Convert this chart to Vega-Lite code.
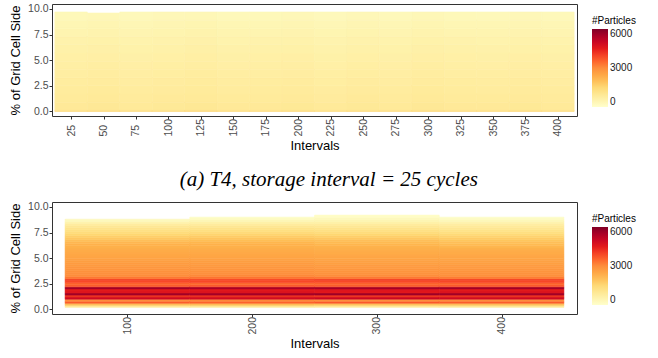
{
"$schema": "https://vega.github.io/schema/vega-lite/v6.json",
"padding": {"left": 9, "top": 3, "right": 5, "bottom": 2},
"spacing": 15,
"background": "white",
"config": {
  "view": {"stroke": "#333333", "strokeWidth": 1},
  "font": "Liberation Sans",
  "axis": {"grid": false, "domain": false, "tickColor": "#333333", "tickSize": 3, "labelColor": "#4d4d4d", "labelFont": "Liberation Sans", "labelFontSize": 10.5, "titleFont": "Liberation Sans", "titleFontSize": 13, "titleFontWeight": "normal", "titleColor": "#000000", "labelFlush": false},
  "legend": {"titleFont": "Liberation Sans", "titleFontSize": 10, "titleFontWeight": "normal", "titleColor": "#000000", "labelFont": "Liberation Sans", "labelFontSize": 10, "labelColor": "#1a1a1a", "gradientLength": 78, "gradientThickness": 16, "padding": 12, "offset": 3, "titlePadding": 3, "labelOffset": 3, "gradientStrokeWidth": 0},
  "title": {"font": "Liberation Serif", "fontSize": 21, "fontStyle": "italic", "fontWeight": "normal", "color": "#000000", "anchor": "middle", "frame": "bounds", "offset": 12}
},
"datasets": {
"a": [
{"a":12.5,"b":37.5,"c":0,"d":0.1,"n":1500},{"a":12.5,"b":37.5,"c":0.1,"d":0.9,"n":900},{"a":12.5,"b":37.5,"c":0.9,"d":1.7,"n":840},{"a":12.5,"b":37.5,"c":1.7,"d":2.5,"n":800},{"a":12.5,"b":37.5,"c":2.5,"d":3.3,"n":760},{"a":12.5,"b":37.5,"c":3.3,"d":4.1,"n":720},{"a":12.5,"b":37.5,"c":4.1,"d":4.9,"n":680},{"a":12.5,"b":37.5,"c":4.9,"d":5.7,"n":640},{"a":12.5,"b":37.5,"c":5.7,"d":6.5,"n":590},{"a":12.5,"b":37.5,"c":6.5,"d":7.3,"n":540},{"a":12.5,"b":37.5,"c":7.3,"d":8.1,"n":480},{"a":12.5,"b":37.5,"c":8.1,"d":8.9,"n":410},{"a":12.5,"b":37.5,"c":8.9,"d":9.7,"n":320},
{"a":37.5,"b":62.5,"c":0,"d":0.1,"n":1560},{"a":37.5,"b":62.5,"c":0.1,"d":0.9,"n":930},{"a":37.5,"b":62.5,"c":0.9,"d":1.7,"n":870},{"a":37.5,"b":62.5,"c":1.7,"d":2.5,"n":830},{"a":37.5,"b":62.5,"c":2.5,"d":3.3,"n":790},{"a":37.5,"b":62.5,"c":3.3,"d":4.1,"n":750},{"a":37.5,"b":62.5,"c":4.1,"d":4.9,"n":710},{"a":37.5,"b":62.5,"c":4.9,"d":5.7,"n":670},{"a":37.5,"b":62.5,"c":5.7,"d":6.5,"n":620},{"a":37.5,"b":62.5,"c":6.5,"d":7.3,"n":570},{"a":37.5,"b":62.5,"c":7.3,"d":8.1,"n":510},{"a":37.5,"b":62.5,"c":8.1,"d":8.9,"n":440},{"a":37.5,"b":62.5,"c":8.9,"d":9.6,"n":350},
{"a":62.5,"b":87.5,"c":0,"d":0.1,"n":1460},{"a":62.5,"b":87.5,"c":0.1,"d":0.9,"n":880},{"a":62.5,"b":87.5,"c":0.9,"d":1.7,"n":820},{"a":62.5,"b":87.5,"c":1.7,"d":2.5,"n":780},{"a":62.5,"b":87.5,"c":2.5,"d":3.3,"n":740},{"a":62.5,"b":87.5,"c":3.3,"d":4.1,"n":700},{"a":62.5,"b":87.5,"c":4.1,"d":4.9,"n":660},{"a":62.5,"b":87.5,"c":4.9,"d":5.7,"n":620},{"a":62.5,"b":87.5,"c":5.7,"d":6.5,"n":570},{"a":62.5,"b":87.5,"c":6.5,"d":7.3,"n":520},{"a":62.5,"b":87.5,"c":7.3,"d":8.1,"n":460},{"a":62.5,"b":87.5,"c":8.1,"d":8.9,"n":390},{"a":62.5,"b":87.5,"c":8.9,"d":9.7,"n":300},
{"a":87.5,"b":112.5,"c":0,"d":0.1,"n":1520},{"a":87.5,"b":112.5,"c":0.1,"d":0.9,"n":910},{"a":87.5,"b":112.5,"c":0.9,"d":1.7,"n":850},{"a":87.5,"b":112.5,"c":1.7,"d":2.5,"n":810},{"a":87.5,"b":112.5,"c":2.5,"d":3.3,"n":770},{"a":87.5,"b":112.5,"c":3.3,"d":4.1,"n":730},{"a":87.5,"b":112.5,"c":4.1,"d":4.9,"n":690},{"a":87.5,"b":112.5,"c":4.9,"d":5.7,"n":650},{"a":87.5,"b":112.5,"c":5.7,"d":6.5,"n":600},{"a":87.5,"b":112.5,"c":6.5,"d":7.3,"n":550},{"a":87.5,"b":112.5,"c":7.3,"d":8.1,"n":490},{"a":87.5,"b":112.5,"c":8.1,"d":8.9,"n":420},{"a":87.5,"b":112.5,"c":8.9,"d":9.7,"n":330},
{"a":112.5,"b":137.5,"c":0,"d":0.1,"n":1580},{"a":112.5,"b":137.5,"c":0.1,"d":0.9,"n":940},{"a":112.5,"b":137.5,"c":0.9,"d":1.7,"n":880},{"a":112.5,"b":137.5,"c":1.7,"d":2.5,"n":840},{"a":112.5,"b":137.5,"c":2.5,"d":3.3,"n":800},{"a":112.5,"b":137.5,"c":3.3,"d":4.1,"n":760},{"a":112.5,"b":137.5,"c":4.1,"d":4.9,"n":720},{"a":112.5,"b":137.5,"c":4.9,"d":5.7,"n":680},{"a":112.5,"b":137.5,"c":5.7,"d":6.5,"n":630},{"a":112.5,"b":137.5,"c":6.5,"d":7.3,"n":580},{"a":112.5,"b":137.5,"c":7.3,"d":8.1,"n":520},{"a":112.5,"b":137.5,"c":8.1,"d":8.9,"n":450},{"a":112.5,"b":137.5,"c":8.9,"d":9.7,"n":360},
{"a":137.5,"b":162.5,"c":0,"d":0.1,"n":1480},{"a":137.5,"b":162.5,"c":0.1,"d":0.9,"n":890},{"a":137.5,"b":162.5,"c":0.9,"d":1.7,"n":830},{"a":137.5,"b":162.5,"c":1.7,"d":2.5,"n":790},{"a":137.5,"b":162.5,"c":2.5,"d":3.3,"n":750},{"a":137.5,"b":162.5,"c":3.3,"d":4.1,"n":710},{"a":137.5,"b":162.5,"c":4.1,"d":4.9,"n":670},{"a":137.5,"b":162.5,"c":4.9,"d":5.7,"n":630},{"a":137.5,"b":162.5,"c":5.7,"d":6.5,"n":580},{"a":137.5,"b":162.5,"c":6.5,"d":7.3,"n":530},{"a":137.5,"b":162.5,"c":7.3,"d":8.1,"n":470},{"a":137.5,"b":162.5,"c":8.1,"d":8.9,"n":400},{"a":137.5,"b":162.5,"c":8.9,"d":9.7,"n":310},
{"a":162.5,"b":187.5,"c":0,"d":0.1,"n":1500},{"a":162.5,"b":187.5,"c":0.1,"d":0.9,"n":900},{"a":162.5,"b":187.5,"c":0.9,"d":1.7,"n":840},{"a":162.5,"b":187.5,"c":1.7,"d":2.5,"n":800},{"a":162.5,"b":187.5,"c":2.5,"d":3.3,"n":760},{"a":162.5,"b":187.5,"c":3.3,"d":4.1,"n":720},{"a":162.5,"b":187.5,"c":4.1,"d":4.9,"n":680},{"a":162.5,"b":187.5,"c":4.9,"d":5.7,"n":640},{"a":162.5,"b":187.5,"c":5.7,"d":6.5,"n":590},{"a":162.5,"b":187.5,"c":6.5,"d":7.3,"n":540},{"a":162.5,"b":187.5,"c":7.3,"d":8.1,"n":480},{"a":162.5,"b":187.5,"c":8.1,"d":8.9,"n":410},{"a":162.5,"b":187.5,"c":8.9,"d":9.7,"n":320},
{"a":187.5,"b":212.5,"c":0,"d":0.1,"n":1540},{"a":187.5,"b":212.5,"c":0.1,"d":0.9,"n":920},{"a":187.5,"b":212.5,"c":0.9,"d":1.7,"n":860},{"a":187.5,"b":212.5,"c":1.7,"d":2.5,"n":820},{"a":187.5,"b":212.5,"c":2.5,"d":3.3,"n":780},{"a":187.5,"b":212.5,"c":3.3,"d":4.1,"n":740},{"a":187.5,"b":212.5,"c":4.1,"d":4.9,"n":700},{"a":187.5,"b":212.5,"c":4.9,"d":5.7,"n":660},{"a":187.5,"b":212.5,"c":5.7,"d":6.5,"n":610},{"a":187.5,"b":212.5,"c":6.5,"d":7.3,"n":560},{"a":187.5,"b":212.5,"c":7.3,"d":8.1,"n":500},{"a":187.5,"b":212.5,"c":8.1,"d":8.9,"n":430},{"a":187.5,"b":212.5,"c":8.9,"d":9.7,"n":340},
{"a":212.5,"b":237.5,"c":0,"d":0.1,"n":1440},{"a":212.5,"b":237.5,"c":0.1,"d":0.9,"n":870},{"a":212.5,"b":237.5,"c":0.9,"d":1.7,"n":810},{"a":212.5,"b":237.5,"c":1.7,"d":2.5,"n":770},{"a":212.5,"b":237.5,"c":2.5,"d":3.3,"n":730},{"a":212.5,"b":237.5,"c":3.3,"d":4.1,"n":690},{"a":212.5,"b":237.5,"c":4.1,"d":4.9,"n":650},{"a":212.5,"b":237.5,"c":4.9,"d":5.7,"n":610},{"a":212.5,"b":237.5,"c":5.7,"d":6.5,"n":560},{"a":212.5,"b":237.5,"c":6.5,"d":7.3,"n":510},{"a":212.5,"b":237.5,"c":7.3,"d":8.1,"n":450},{"a":212.5,"b":237.5,"c":8.1,"d":8.9,"n":380},{"a":212.5,"b":237.5,"c":8.9,"d":9.7,"n":290},
{"a":237.5,"b":262.5,"c":0,"d":0.1,"n":1520},{"a":237.5,"b":262.5,"c":0.1,"d":0.9,"n":910},{"a":237.5,"b":262.5,"c":0.9,"d":1.7,"n":850},{"a":237.5,"b":262.5,"c":1.7,"d":2.5,"n":810},{"a":237.5,"b":262.5,"c":2.5,"d":3.3,"n":770},{"a":237.5,"b":262.5,"c":3.3,"d":4.1,"n":730},{"a":237.5,"b":262.5,"c":4.1,"d":4.9,"n":690},{"a":237.5,"b":262.5,"c":4.9,"d":5.7,"n":650},{"a":237.5,"b":262.5,"c":5.7,"d":6.5,"n":600},{"a":237.5,"b":262.5,"c":6.5,"d":7.3,"n":550},{"a":237.5,"b":262.5,"c":7.3,"d":8.1,"n":490},{"a":237.5,"b":262.5,"c":8.1,"d":8.9,"n":420},{"a":237.5,"b":262.5,"c":8.9,"d":9.7,"n":330},
{"a":262.5,"b":287.5,"c":0,"d":0.1,"n":1460},{"a":262.5,"b":287.5,"c":0.1,"d":0.9,"n":880},{"a":262.5,"b":287.5,"c":0.9,"d":1.7,"n":820},{"a":262.5,"b":287.5,"c":1.7,"d":2.5,"n":780},{"a":262.5,"b":287.5,"c":2.5,"d":3.3,"n":740},{"a":262.5,"b":287.5,"c":3.3,"d":4.1,"n":700},{"a":262.5,"b":287.5,"c":4.1,"d":4.9,"n":660},{"a":262.5,"b":287.5,"c":4.9,"d":5.7,"n":620},{"a":262.5,"b":287.5,"c":5.7,"d":6.5,"n":570},{"a":262.5,"b":287.5,"c":6.5,"d":7.3,"n":520},{"a":262.5,"b":287.5,"c":7.3,"d":8.1,"n":460},{"a":262.5,"b":287.5,"c":8.1,"d":8.9,"n":390},{"a":262.5,"b":287.5,"c":8.9,"d":9.7,"n":300},
{"a":287.5,"b":312.5,"c":0,"d":0.1,"n":1560},{"a":287.5,"b":312.5,"c":0.1,"d":0.9,"n":930},{"a":287.5,"b":312.5,"c":0.9,"d":1.7,"n":870},{"a":287.5,"b":312.5,"c":1.7,"d":2.5,"n":830},{"a":287.5,"b":312.5,"c":2.5,"d":3.3,"n":790},{"a":287.5,"b":312.5,"c":3.3,"d":4.1,"n":750},{"a":287.5,"b":312.5,"c":4.1,"d":4.9,"n":710},{"a":287.5,"b":312.5,"c":4.9,"d":5.7,"n":670},{"a":287.5,"b":312.5,"c":5.7,"d":6.5,"n":620},{"a":287.5,"b":312.5,"c":6.5,"d":7.3,"n":570},{"a":287.5,"b":312.5,"c":7.3,"d":8.1,"n":510},{"a":287.5,"b":312.5,"c":8.1,"d":8.9,"n":440},{"a":287.5,"b":312.5,"c":8.9,"d":9.7,"n":350},
{"a":312.5,"b":337.5,"c":0,"d":0.1,"n":1500},{"a":312.5,"b":337.5,"c":0.1,"d":0.9,"n":900},{"a":312.5,"b":337.5,"c":0.9,"d":1.7,"n":840},{"a":312.5,"b":337.5,"c":1.7,"d":2.5,"n":800},{"a":312.5,"b":337.5,"c":2.5,"d":3.3,"n":760},{"a":312.5,"b":337.5,"c":3.3,"d":4.1,"n":720},{"a":312.5,"b":337.5,"c":4.1,"d":4.9,"n":680},{"a":312.5,"b":337.5,"c":4.9,"d":5.7,"n":640},{"a":312.5,"b":337.5,"c":5.7,"d":6.5,"n":590},{"a":312.5,"b":337.5,"c":6.5,"d":7.3,"n":540},{"a":312.5,"b":337.5,"c":7.3,"d":8.1,"n":480},{"a":312.5,"b":337.5,"c":8.1,"d":8.9,"n":410},{"a":312.5,"b":337.5,"c":8.9,"d":9.7,"n":320},
{"a":337.5,"b":362.5,"c":0,"d":0.1,"n":1480},{"a":337.5,"b":362.5,"c":0.1,"d":0.9,"n":890},{"a":337.5,"b":362.5,"c":0.9,"d":1.7,"n":830},{"a":337.5,"b":362.5,"c":1.7,"d":2.5,"n":790},{"a":337.5,"b":362.5,"c":2.5,"d":3.3,"n":750},{"a":337.5,"b":362.5,"c":3.3,"d":4.1,"n":710},{"a":337.5,"b":362.5,"c":4.1,"d":4.9,"n":670},{"a":337.5,"b":362.5,"c":4.9,"d":5.7,"n":630},{"a":337.5,"b":362.5,"c":5.7,"d":6.5,"n":580},{"a":337.5,"b":362.5,"c":6.5,"d":7.3,"n":530},{"a":337.5,"b":362.5,"c":7.3,"d":8.1,"n":470},{"a":337.5,"b":362.5,"c":8.1,"d":8.9,"n":400},{"a":337.5,"b":362.5,"c":8.9,"d":9.7,"n":310},
{"a":362.5,"b":387.5,"c":0,"d":0.1,"n":1540},{"a":362.5,"b":387.5,"c":0.1,"d":0.9,"n":920},{"a":362.5,"b":387.5,"c":0.9,"d":1.7,"n":860},{"a":362.5,"b":387.5,"c":1.7,"d":2.5,"n":820},{"a":362.5,"b":387.5,"c":2.5,"d":3.3,"n":780},{"a":362.5,"b":387.5,"c":3.3,"d":4.1,"n":740},{"a":362.5,"b":387.5,"c":4.1,"d":4.9,"n":700},{"a":362.5,"b":387.5,"c":4.9,"d":5.7,"n":660},{"a":362.5,"b":387.5,"c":5.7,"d":6.5,"n":610},{"a":362.5,"b":387.5,"c":6.5,"d":7.3,"n":560},{"a":362.5,"b":387.5,"c":7.3,"d":8.1,"n":500},{"a":362.5,"b":387.5,"c":8.1,"d":8.9,"n":430},{"a":362.5,"b":387.5,"c":8.9,"d":9.7,"n":340},
{"a":387.5,"b":412.5,"c":0,"d":0.1,"n":1460},{"a":387.5,"b":412.5,"c":0.1,"d":0.9,"n":880},{"a":387.5,"b":412.5,"c":0.9,"d":1.7,"n":820},{"a":387.5,"b":412.5,"c":1.7,"d":2.5,"n":780},{"a":387.5,"b":412.5,"c":2.5,"d":3.3,"n":740},{"a":387.5,"b":412.5,"c":3.3,"d":4.1,"n":700},{"a":387.5,"b":412.5,"c":4.1,"d":4.9,"n":660},{"a":387.5,"b":412.5,"c":4.9,"d":5.7,"n":620},{"a":387.5,"b":412.5,"c":5.7,"d":6.5,"n":570},{"a":387.5,"b":412.5,"c":6.5,"d":7.3,"n":520},{"a":387.5,"b":412.5,"c":7.3,"d":8.1,"n":460},{"a":387.5,"b":412.5,"c":8.1,"d":8.9,"n":390},{"a":387.5,"b":412.5,"c":8.9,"d":9.7,"n":300}
],
"b": [
{"a":50,"b":150,"c":0.2,"d":0.4,"n":900},{"a":50,"b":150,"c":0.4,"d":0.6,"n":2000},{"a":50,"b":150,"c":0.6,"d":0.8,"n":3600},{"a":50,"b":150,"c":0.8,"d":1.0,"n":3000},{"a":50,"b":150,"c":1.0,"d":1.2,"n":4900},{"a":50,"b":150,"c":1.2,"d":1.4,"n":4200},{"a":50,"b":150,"c":1.4,"d":1.6,"n":5600},{"a":50,"b":150,"c":1.6,"d":1.8,"n":4600},{"a":50,"b":150,"c":1.8,"d":2.0,"n":4500},{"a":50,"b":150,"c":2.0,"d":2.2,"n":5600},{"a":50,"b":150,"c":2.2,"d":2.4,"n":3600},{"a":50,"b":150,"c":2.4,"d":2.6,"n":3500},{"a":50,"b":150,"c":2.6,"d":2.8,"n":3800},{"a":50,"b":150,"c":2.8,"d":3.0,"n":3950},{"a":50,"b":150,"c":3.0,"d":3.2,"n":3300},{"a":50,"b":150,"c":3.2,"d":3.4,"n":3000},{"a":50,"b":150,"c":3.4,"d":3.6,"n":2950},{"a":50,"b":150,"c":3.6,"d":3.8,"n":2900},{"a":50,"b":150,"c":3.8,"d":4.0,"n":2850},{"a":50,"b":150,"c":4.0,"d":4.2,"n":2800},{"a":50,"b":150,"c":4.2,"d":4.4,"n":2750},{"a":50,"b":150,"c":4.4,"d":4.6,"n":2700},{"a":50,"b":150,"c":4.6,"d":4.8,"n":2650},{"a":50,"b":150,"c":4.8,"d":5.0,"n":2600},{"a":50,"b":150,"c":5.0,"d":5.2,"n":2550},{"a":50,"b":150,"c":5.2,"d":5.4,"n":2500},{"a":50,"b":150,"c":5.4,"d":5.6,"n":2450},{"a":50,"b":150,"c":5.6,"d":5.8,"n":2400},{"a":50,"b":150,"c":5.8,"d":6.0,"n":2350},{"a":50,"b":150,"c":6.0,"d":6.2,"n":2300},{"a":50,"b":150,"c":6.2,"d":6.4,"n":2250},{"a":50,"b":150,"c":6.4,"d":6.6,"n":2150},{"a":50,"b":150,"c":6.6,"d":6.8,"n":2000},{"a":50,"b":150,"c":6.8,"d":7.0,"n":1850},{"a":50,"b":150,"c":7.0,"d":7.2,"n":1700},{"a":50,"b":150,"c":7.2,"d":7.4,"n":1550},{"a":50,"b":150,"c":7.4,"d":7.6,"n":1400},{"a":50,"b":150,"c":7.6,"d":7.8,"n":1250},{"a":50,"b":150,"c":7.8,"d":8.0,"n":1100},{"a":50,"b":150,"c":8.0,"d":8.2,"n":950},{"a":50,"b":150,"c":8.2,"d":8.4,"n":750},{"a":50,"b":150,"c":8.4,"d":8.6,"n":500},{"a":50,"b":150,"c":8.6,"d":8.8,"n":250},
{"a":150,"b":250,"c":0.2,"d":0.4,"n":950},{"a":150,"b":250,"c":0.4,"d":0.6,"n":2050},{"a":150,"b":250,"c":0.6,"d":0.8,"n":3550},{"a":150,"b":250,"c":0.8,"d":1.0,"n":3050},{"a":150,"b":250,"c":1.0,"d":1.2,"n":4850},{"a":150,"b":250,"c":1.2,"d":1.4,"n":4250},{"a":150,"b":250,"c":1.4,"d":1.6,"n":5550},{"a":150,"b":250,"c":1.6,"d":1.8,"n":4650},{"a":150,"b":250,"c":1.8,"d":2.0,"n":4550},{"a":150,"b":250,"c":2.0,"d":2.2,"n":5500},{"a":150,"b":250,"c":2.2,"d":2.4,"n":3650},{"a":150,"b":250,"c":2.4,"d":2.6,"n":3450},{"a":150,"b":250,"c":2.6,"d":2.8,"n":3850},{"a":150,"b":250,"c":2.8,"d":3.0,"n":3900},{"a":150,"b":250,"c":3.0,"d":3.2,"n":3350},{"a":150,"b":250,"c":3.2,"d":3.4,"n":3050},{"a":150,"b":250,"c":3.4,"d":3.6,"n":2950},{"a":150,"b":250,"c":3.6,"d":3.8,"n":2900},{"a":150,"b":250,"c":3.8,"d":4.0,"n":2850},{"a":150,"b":250,"c":4.0,"d":4.2,"n":2800},{"a":150,"b":250,"c":4.2,"d":4.4,"n":2750},{"a":150,"b":250,"c":4.4,"d":4.6,"n":2700},{"a":150,"b":250,"c":4.6,"d":4.8,"n":2650},{"a":150,"b":250,"c":4.8,"d":5.0,"n":2600},{"a":150,"b":250,"c":5.0,"d":5.2,"n":2550},{"a":150,"b":250,"c":5.2,"d":5.4,"n":2500},{"a":150,"b":250,"c":5.4,"d":5.6,"n":2450},{"a":150,"b":250,"c":5.6,"d":5.8,"n":2400},{"a":150,"b":250,"c":5.8,"d":6.0,"n":2350},{"a":150,"b":250,"c":6.0,"d":6.2,"n":2300},{"a":150,"b":250,"c":6.2,"d":6.4,"n":2250},{"a":150,"b":250,"c":6.4,"d":6.6,"n":2200},{"a":150,"b":250,"c":6.6,"d":6.8,"n":2050},{"a":150,"b":250,"c":6.8,"d":7.0,"n":1900},{"a":150,"b":250,"c":7.0,"d":7.2,"n":1750},{"a":150,"b":250,"c":7.2,"d":7.4,"n":1600},{"a":150,"b":250,"c":7.4,"d":7.6,"n":1450},{"a":150,"b":250,"c":7.6,"d":7.8,"n":1300},{"a":150,"b":250,"c":7.8,"d":8.0,"n":1150},{"a":150,"b":250,"c":8.0,"d":8.2,"n":1000},{"a":150,"b":250,"c":8.2,"d":8.4,"n":800},{"a":150,"b":250,"c":8.4,"d":8.6,"n":600},{"a":150,"b":250,"c":8.6,"d":8.8,"n":350},{"a":150,"b":250,"c":8.8,"d":9.0,"n":150},
{"a":250,"b":350,"c":0.2,"d":0.4,"n":900},{"a":250,"b":350,"c":0.4,"d":0.6,"n":1950},{"a":250,"b":350,"c":0.6,"d":0.8,"n":3650},{"a":250,"b":350,"c":0.8,"d":1.0,"n":2950},{"a":250,"b":350,"c":1.0,"d":1.2,"n":4950},{"a":250,"b":350,"c":1.2,"d":1.4,"n":4150},{"a":250,"b":350,"c":1.4,"d":1.6,"n":5650},{"a":250,"b":350,"c":1.6,"d":1.8,"n":4550},{"a":250,"b":350,"c":1.8,"d":2.0,"n":4600},{"a":250,"b":350,"c":2.0,"d":2.2,"n":5550},{"a":250,"b":350,"c":2.2,"d":2.4,"n":3600},{"a":250,"b":350,"c":2.4,"d":2.6,"n":3500},{"a":250,"b":350,"c":2.6,"d":2.8,"n":3800},{"a":250,"b":350,"c":2.8,"d":3.0,"n":4000},{"a":250,"b":350,"c":3.0,"d":3.2,"n":3300},{"a":250,"b":350,"c":3.2,"d":3.4,"n":3000},{"a":250,"b":350,"c":3.4,"d":3.6,"n":2900},{"a":250,"b":350,"c":3.6,"d":3.8,"n":2850},{"a":250,"b":350,"c":3.8,"d":4.0,"n":2800},{"a":250,"b":350,"c":4.0,"d":4.2,"n":2750},{"a":250,"b":350,"c":4.2,"d":4.4,"n":2700},{"a":250,"b":350,"c":4.4,"d":4.6,"n":2650},{"a":250,"b":350,"c":4.6,"d":4.8,"n":2600},{"a":250,"b":350,"c":4.8,"d":5.0,"n":2550},{"a":250,"b":350,"c":5.0,"d":5.2,"n":2500},{"a":250,"b":350,"c":5.2,"d":5.4,"n":2450},{"a":250,"b":350,"c":5.4,"d":5.6,"n":2400},{"a":250,"b":350,"c":5.6,"d":5.8,"n":2350},{"a":250,"b":350,"c":5.8,"d":6.0,"n":2300},{"a":250,"b":350,"c":6.0,"d":6.2,"n":2250},{"a":250,"b":350,"c":6.2,"d":6.4,"n":2200},{"a":250,"b":350,"c":6.4,"d":6.6,"n":2100},{"a":250,"b":350,"c":6.6,"d":6.8,"n":2000},{"a":250,"b":350,"c":6.8,"d":7.0,"n":1850},{"a":250,"b":350,"c":7.0,"d":7.2,"n":1700},{"a":250,"b":350,"c":7.2,"d":7.4,"n":1550},{"a":250,"b":350,"c":7.4,"d":7.6,"n":1400},{"a":250,"b":350,"c":7.6,"d":7.8,"n":1250},{"a":250,"b":350,"c":7.8,"d":8.0,"n":1100},{"a":250,"b":350,"c":8.0,"d":8.2,"n":950},{"a":250,"b":350,"c":8.2,"d":8.4,"n":800},{"a":250,"b":350,"c":8.4,"d":8.6,"n":600},{"a":250,"b":350,"c":8.6,"d":8.8,"n":400},{"a":250,"b":350,"c":8.8,"d":9.0,"n":250},{"a":250,"b":350,"c":9.0,"d":9.2,"n":100},
{"a":350,"b":450,"c":0.2,"d":0.4,"n":950},{"a":350,"b":450,"c":0.4,"d":0.6,"n":2000},{"a":350,"b":450,"c":0.6,"d":0.8,"n":3600},{"a":350,"b":450,"c":0.8,"d":1.0,"n":3000},{"a":350,"b":450,"c":1.0,"d":1.2,"n":4900},{"a":350,"b":450,"c":1.2,"d":1.4,"n":4200},{"a":350,"b":450,"c":1.4,"d":1.6,"n":5600},{"a":350,"b":450,"c":1.6,"d":1.8,"n":4650},{"a":350,"b":450,"c":1.8,"d":2.0,"n":4500},{"a":350,"b":450,"c":2.0,"d":2.2,"n":5600},{"a":350,"b":450,"c":2.2,"d":2.4,"n":3650},{"a":350,"b":450,"c":2.4,"d":2.6,"n":3500},{"a":350,"b":450,"c":2.6,"d":2.8,"n":3850},{"a":350,"b":450,"c":2.8,"d":3.0,"n":3950},{"a":350,"b":450,"c":3.0,"d":3.2,"n":3250},{"a":350,"b":450,"c":3.2,"d":3.4,"n":2950},{"a":350,"b":450,"c":3.4,"d":3.6,"n":2900},{"a":350,"b":450,"c":3.6,"d":3.8,"n":2850},{"a":350,"b":450,"c":3.8,"d":4.0,"n":2800},{"a":350,"b":450,"c":4.0,"d":4.2,"n":2750},{"a":350,"b":450,"c":4.2,"d":4.4,"n":2700},{"a":350,"b":450,"c":4.4,"d":4.6,"n":2650},{"a":350,"b":450,"c":4.6,"d":4.8,"n":2600},{"a":350,"b":450,"c":4.8,"d":5.0,"n":2550},{"a":350,"b":450,"c":5.0,"d":5.2,"n":2500},{"a":350,"b":450,"c":5.2,"d":5.4,"n":2450},{"a":350,"b":450,"c":5.4,"d":5.6,"n":2400},{"a":350,"b":450,"c":5.6,"d":5.8,"n":2350},{"a":350,"b":450,"c":5.8,"d":6.0,"n":2300},{"a":350,"b":450,"c":6.0,"d":6.2,"n":2200},{"a":350,"b":450,"c":6.2,"d":6.4,"n":2100},{"a":350,"b":450,"c":6.4,"d":6.6,"n":2000},{"a":350,"b":450,"c":6.6,"d":6.8,"n":1900},{"a":350,"b":450,"c":6.8,"d":7.0,"n":1750},{"a":350,"b":450,"c":7.0,"d":7.2,"n":1600},{"a":350,"b":450,"c":7.2,"d":7.4,"n":1450},{"a":350,"b":450,"c":7.4,"d":7.6,"n":1300},{"a":350,"b":450,"c":7.6,"d":7.8,"n":1150},{"a":350,"b":450,"c":7.8,"d":8.0,"n":1000},{"a":350,"b":450,"c":8.0,"d":8.2,"n":850},{"a":350,"b":450,"c":8.2,"d":8.4,"n":700},{"a":350,"b":450,"c":8.4,"d":8.6,"n":500},{"a":350,"b":450,"c":8.6,"d":8.8,"n":300},{"a":350,"b":450,"c":8.8,"d":9.0,"n":120}
]
},
"vconcat": [
{
  "width": 525, "height": 112,
  "data": {"name": "a"},
  "mark": {"type": "rect", "clip": true, "strokeWidth": 0.6},
  "encoding": {
    "x": {"field": "a", "type": "quantitative", "scale": {"domain": [10.3, 414.7], "nice": false, "zero": false},
          "axis": {"title": "Intervals", "values": [25,50,75,100,125,150,175,200,225,250,275,300,325,350,375,400], "labelAngle": 270, "labelAlign": "left", "labelBaseline": "middle", "labelPadding": 17, "titlePadding": 3}},
    "x2": {"field": "b"},
    "y": {"field": "c", "type": "quantitative", "scale": {"domain": [-0.45, 10.48], "nice": false, "zero": false},
          "axis": {"title": "% of Grid Cell Side", "values": [0, 2.5, 5, 7.5, 10], "format": ".1f", "labelPadding": 1, "titlePadding": 5}},
    "y2": {"field": "d"},
    "color": {"field": "n", "type": "quantitative", "title": "#Particles", "scale": {"domain": [0,750,1500,2250,3000,3750,4500,5250,6000], "range": ["#ffffcc","#ffeda0","#fed976","#feb24c","#fd8d3c","#fc4e2a","#e31a1c","#bd0026","#800026"]}, "legend": {"type": "gradient", "values": [0, 3000, 6000], "format": "d"}},
    "stroke": {"field": "n", "type": "quantitative", "scale": {"domain": [-1,750,1500,2250,3000,3750,4500,5250,6001], "range": ["#ffffcc","#ffeda0","#fed976","#feb24c","#fd8d3c","#fc4e2a","#e31a1c","#bd0026","#800026"]}, "legend": null}
  }
},
{
  "width": 525, "height": 112,
  "title": {"text": "(a) T4, storage interval = 25 cycles"},
  "data": {"name": "b"},
  "mark": {"type": "rect", "clip": true, "strokeWidth": 0.6},
  "encoding": {
    "x": {"field": "a", "type": "quantitative", "scale": {"domain": [39.5, 460.5], "nice": false, "zero": false},
          "axis": {"title": "Intervals", "values": [100, 200, 300, 400], "labelAngle": 270, "labelAlign": "left", "labelBaseline": "middle", "labelPadding": 17, "titlePadding": 3}},
    "x2": {"field": "b"},
    "y": {"field": "c", "type": "quantitative", "scale": {"domain": [-0.45, 10.48], "nice": false, "zero": false},
          "axis": {"title": "% of Grid Cell Side", "values": [0, 2.5, 5, 7.5, 10], "format": ".1f", "labelPadding": 1, "titlePadding": 5}},
    "y2": {"field": "d"},
    "color": {"field": "n", "type": "quantitative", "title": "#Particles", "scale": {"domain": [0,750,1500,2250,3000,3750,4500,5250,6000], "range": ["#ffffcc","#ffeda0","#fed976","#feb24c","#fd8d3c","#fc4e2a","#e31a1c","#bd0026","#800026"]}, "legend": {"type": "gradient", "values": [0, 3000, 6000], "format": "d"}},
    "stroke": {"field": "n", "type": "quantitative", "scale": {"domain": [-1,750,1500,2250,3000,3750,4500,5250,6001], "range": ["#ffffcc","#ffeda0","#fed976","#feb24c","#fd8d3c","#fc4e2a","#e31a1c","#bd0026","#800026"]}, "legend": null}
  }
}
],
"resolve": {"scale": {"color": "independent", "stroke": "independent"}, "legend": {"color": "independent"}}
}
